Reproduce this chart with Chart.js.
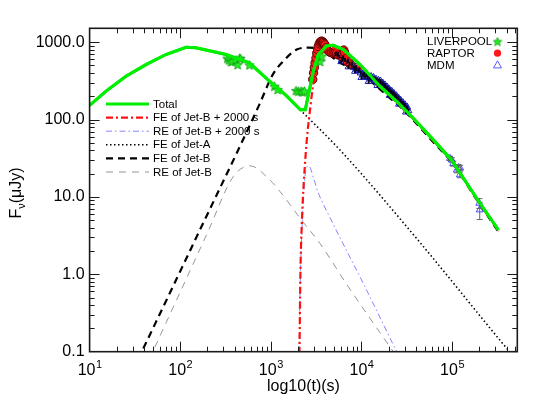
<!DOCTYPE html>
<html>
<head>
<meta charset="utf-8">
<script src="https://cdn.jsdelivr.net/npm/chart.js@4.4.1/dist/chart.umd.min.js"></script>
<style>
  html, body { margin: 0; padding: 0; background: #fff; }
  canvas { display: block; }
</style>
</head>
<body>
<canvas id="lc" width="545" height="409"></canvas>
<script>
const FONT = "'Liberation Sans', Arial, Helvetica, sans-serif";

// model curves: t (s) vs flux (uJy)
const tTotal = [10, 15.2, 25.2, 41.9, 69.6, 116, 149, 320, 580, 925, 1473, 2120, 2400, 2945, 3343, 4140, 4900, 6320, 9670, 16000, 25500, 37400, 62200, 98500, 187000, 325000];
const fTotal = [152, 233, 363, 513, 692, 860, 844, 692, 540, 328, 205, 134, 134, 422, 691, 900, 910, 802, 513, 270, 164, 104, 54.6, 30, 9.6, 3.74];

const tFeB2000 = [2050, 2070, 2120, 2200, 2430, 2750, 3050, 3374, 3930, 4640, 5800, 7800, 12100, 16100, 21800, 29900, 39400, 64200, 100500, 189000, 327000];
const fFeB2000 = [0.06, 0.1, 1.0, 4.6, 37, 156, 381, 568, 802, 852, 765, 560, 375, 262, 190, 133, 95, 51, 28.5, 9.2, 3.6];

const tReB2000 = [2050, 2100, 2200, 2385, 2620, 3000, 3300, 4500, 6890, 10500, 24500, 28000];
const fReB2000 = [0.1, 0.59, 3.45, 18.3, 25.2, 16.6, 11.7, 5.4, 2.0, 0.76, 0.1, 0.073];

const tFeA = [2100, 5800, 40700, 339000, 450000];
const fFeA = [134, 40.4, 2.9, 0.14, 0.094];

const tFeB = [30, 37.6, 99.5, 180, 421, 747, 1050, 1374, 1930, 2640, 3800, 5800, 10100, 14100, 19800, 27900, 37400, 62200, 98500, 187000, 325000];
const fFeB = [0.058, 0.1, 1.08, 4.64, 37, 156, 381, 568, 802, 852, 765, 540, 398, 281, 198, 140, 98, 51, 28.5, 9.2, 3.55];

const tReB = [40, 49.9, 100, 200, 385, 589, 977, 1265, 2190, 3490, 6890, 22500, 27000];
const fReB = [0.056, 0.1, 0.59, 3.45, 18.3, 25.2, 16.6, 11.7, 5.0, 2.5, 0.74, 0.1, 0.074];

// observations
const tLiverpool = [332, 345, 363, 379, 414, 431, 453, 460, 580, 1094, 1191, 1897, 2010, 2153, 2250, 2350, 3490, 3650];
const fLiverpool = [621, 590, 561, 568, 590, 513, 621, 614, 508, 270, 244, 237, 232, 233, 228, 233, 562, 659];

const tRaptor = [2900, 2960, 3020, 3080, 3150, 3210, 3280, 3340, 3420, 3500, 3580, 3650, 3720, 3800, 3880, 3960, 4100, 4310, 4500, 4700, 4900, 5100, 5300, 5560, 5800, 6030, 6200, 6380, 6500, 6700, 7000, 7500];
const fRaptor = [330, 400, 470, 540, 620, 720, 800, 880, 950, 1000, 1020, 1030, 1010, 990, 960, 920, 850, 770, 740, 730, 720, 727, 710, 685, 690, 652, 700, 790, 740, 610, 560, 520];

const tMdm = [5200, 5700, 6000, 6100, 6590, 7000, 7200, 7400, 7820, 8300, 8500, 8800, 9250, 9800, 10000, 10400, 11000, 11700, 12000, 12400, 13200, 14100, 14900, 15000, 15800, 16700, 17700, 18700, 19800, 20500, 21000, 22200, 23500, 24900, 26000, 26400, 27900, 29500, 31000, 31200, 33000,
              5500, 6300, 7100, 7900, 8700, 9500, 10700, 11400, 12800, 13600, 14500, 15400, 16200, 17200, 18200, 19300, 20300, 21600, 22800, 24200, 25600, 27100, 28700, 30300, 32000,
              95000, 99300, 103000, 113000, 118000, 122000, 123000, 200000, 202000];
const fMdm = [700, 650, 560, 600, 590, 560, 480, 530, 500, 470, 420, 450, 430, 400, 350, 380, 360, 350, 310, 345, 335, 320, 305, 275, 300, 290, 268, 255, 240, 205, 225, 212, 198, 185, 158, 172, 160, 150, 125, 141, 130,
              700, 630, 580, 530, 480, 445, 392, 375, 360, 350, 332, 322, 315, 296, 280, 262, 246, 232, 218, 204, 190, 177, 165, 155, 145,
              31.5, 30.1, 27, 22.3, 24, 19.3, 23.6, 8.3, 6.8];
const eMdm = [40, 36, 32, 34, 33, 31, 27, 30, 28, 26, 24, 25, 24, 22, 20, 21, 20, 20, 18, 20, 19, 18, 17, 16, 17, 16, 15, 14, 14, 12, 13, 12, 11, 11, 9, 10, 9, 9, 7, 8, 8,
              40, 36, 33, 30, 27, 25, 22, 21, 20, 20, 19, 18, 18, 17, 16, 15, 14, 13, 12, 12, 11, 10, 9, 9, 8,
              2, 2, 2, 1.8, 2, 1.6, 2, 1.2, 1.7];

const xTickExps = [1, 2, 3, 4, 5];
const yTickValues = [0.1, 1, 10, 100, 1000];
const yTickLabels = ['0.1', '1.0', '10.0', '100.0', '1000.0'];

const lineLegend = ['Total', 'FE of Jet-B + 2000 s', 'RE of Jet-B + 2000 s', 'FE of Jet-A', 'FE of Jet-B', 'RE of Jet-B'];
const pointLegend = ['LIVERPOOL', 'RAPTOR', 'MDM'];

const pts = (xs, ys) => xs.map((x, i) => ({ x, y: ys[i] }));

function starImage(size) {
  const c = document.createElement('canvas');
  c.width = c.height = size;
  const g = c.getContext('2d');
  const cx = size / 2, cy = size / 2 + 0.5, r = size / 2 - 0.5, ri = r * 0.45;
  g.beginPath();
  for (let i = 0; i < 10; i++) {
    const a = -Math.PI / 2 + i * Math.PI / 5;
    const rr = i % 2 ? ri : r;
    g.lineTo(cx + rr * Math.cos(a), cy + rr * Math.sin(a));
  }
  g.closePath();
  g.fillStyle = '#22f022';
  g.fill();
  g.strokeStyle = '#139a13';
  g.lineWidth = 0.8;
  g.stroke();
  return c;
}
const starBig = starImage(11);
const starSmall = starImage(10);

function line(label, xs, ys, color, width, dash, order) {
  return {
    label, data: pts(xs, ys), showLine: true, borderColor: color, borderWidth: width,
    borderDash: dash, pointRadius: 0, fill: false, order, cubicInterpolationMode: 'monotone'
  };
}

const datasets = [
  Object.assign(line('Total', tTotal, fTotal, '#00ee00', 3, [], 0), { cubicInterpolationMode: 'default', tension: 0 }),
  line('FE of Jet-B + 2000 s', tFeB2000, fFeB2000, '#ff1010', 2.2, [7, 3, 2, 3], 2),
  line('RE of Jet-B + 2000 s', tReB2000, fReB2000, '#7777ff', 0.9, [6, 3, 1.5, 3], 6),
  line('FE of Jet-A', tFeA, fFeA, '#000000', 1.6, [1.5, 2.5], 8),
  line('FE of Jet-B', tFeB, fFeB, '#000000', 2.2, [7, 5], 5),
  line('RE of Jet-B', tReB, fReB, '#8a8a8a', 0.9, [7, 6], 7),
  { label: 'LIVERPOOL', data: pts(tLiverpool, fLiverpool), pointStyle: starBig, pointRadius: 5.5, showLine: false, order: 1 },
  { label: 'RAPTOR', data: pts(tRaptor, fRaptor), pointStyle: 'circle', pointRadius: 4.2, backgroundColor: '#ff1a1a', borderColor: '#5a0000', borderWidth: 1, showLine: false, order: 3 },
  { label: 'MDM', data: pts(tMdm, fMdm), pointStyle: 'triangle', pointRadius: 4, backgroundColor: 'rgba(0,0,0,0)',
    borderColor: c => (c.raw && c.raw.x < 50000 ? '#1c1cb4' : '#4646ff'), borderWidth: 1, showLine: false, order: 4 }
];

const errorBars = {
  id: 'errorBars',
  afterDatasetsDraw(chart) {
    const { ctx, scales: { x, y } } = chart;
    ctx.save();
    tMdm.forEach((t, i) => {
      const px = x.getPixelForValue(t);
      const y1 = y.getPixelForValue(fMdm[i] - eMdm[i]);
      const y2 = y.getPixelForValue(fMdm[i] + eMdm[i]);
      const dense = t < 50000;
      ctx.strokeStyle = dense ? '#05051e' : '#666';
      ctx.lineWidth = dense ? 2 : 1;
      ctx.beginPath();
      ctx.moveTo(px, y1); ctx.lineTo(px, y2);
      if (!dense) {
        ctx.moveTo(px - 3, y1); ctx.lineTo(px + 3, y1);
        ctx.moveTo(px - 3, y2); ctx.lineTo(px + 3, y2);
      }
      ctx.stroke();
    });
    // green total stays on top of the dense band
    const meta = chart.getDatasetMeta(0);
    if (meta && meta.dataset) meta.dataset.draw(ctx, chart.chartArea);
    ctx.restore();
  }
};

const isDecade = v => Math.abs(Math.log10(v) - Math.round(Math.log10(v))) < 1e-6;
const isWhole = v => {
  const m = v / Math.pow(10, Math.floor(Math.log10(v) + 1e-9));
  return Math.abs(m - Math.round(m)) < 1e-6;
};

const frame = {
  id: 'frame',
  afterDraw(chart) {
    const { ctx, chartArea: a, scales: { x, y } } = chart;
    ctx.save();
    ctx.strokeStyle = '#1a1a1a';
    ctx.lineWidth = 1;
    ctx.beginPath();
    x.ticks.forEach(t => {
      if (!isWhole(t.value)) return;
      const px = Math.round(x.getPixelForValue(t.value)) + 0.5;
      if (px <= a.left + 1 || px >= a.right - 1) return;
      const L = isDecade(t.value) ? 10 : 5;
      ctx.moveTo(px, a.bottom); ctx.lineTo(px, a.bottom - L);
      ctx.moveTo(px, a.top); ctx.lineTo(px, a.top + L);
    });
    y.ticks.forEach(t => {
      if (!isWhole(t.value)) return;
      const py = Math.round(y.getPixelForValue(t.value)) + 0.5;
      if (py <= a.top + 1 || py >= a.bottom - 1) return;
      const L = isDecade(t.value) ? 10 : 5;
      ctx.moveTo(a.left, py); ctx.lineTo(a.left + L, py);
      ctx.moveTo(a.right, py); ctx.lineTo(a.right - L, py);
    });
    ctx.stroke();
    ctx.lineWidth = 1.6;
    ctx.strokeRect(a.left, a.top, a.right - a.left, a.bottom - a.top);

    // x tick labels 10^n
    ctx.fillStyle = '#000';
    ctx.textBaseline = 'alphabetic';
    ctx.textAlign = 'left';
    xTickExps.forEach(e => {
      const px = x.getPixelForValue(Math.pow(10, e));
      ctx.font = '16px ' + FONT;
      const w1 = ctx.measureText('10').width;
      ctx.font = '11px ' + FONT;
      const w2 = ctx.measureText(String(e)).width;
      const x0 = px - (w1 + w2) / 2;
      ctx.font = '16px ' + FONT;
      ctx.fillText('10', x0, a.bottom + 23.5);
      ctx.font = '11px ' + FONT;
      ctx.fillText(String(e), x0 + w1 + 0.5, a.bottom + 16);
    });

    // axis titles
    ctx.font = '16px ' + FONT;
    ctx.textAlign = 'center';
    ctx.fillText('log10(t)(s)', (a.left + a.right) / 2, 391);

    ctx.save();
    ctx.translate(20.5, 193);
    ctx.rotate(-Math.PI / 2);
    ctx.textAlign = 'left';
    ctx.font = '16px ' + FONT;
    const wF = ctx.measureText('F').width;
    const wRest = ctx.measureText('(μJy)').width;
    ctx.font = '11px ' + FONT;
    const wNu = ctx.measureText('ν').width;
    let sx = -(wF + wNu + wRest) / 2;
    ctx.font = '16px ' + FONT;
    ctx.fillText('F', sx, 0);
    ctx.font = '11px ' + FONT;
    ctx.fillText('ν', sx + wF, 4);
    ctx.font = '16px ' + FONT;
    ctx.fillText('(μJy)', sx + wF + wNu, 0);
    ctx.restore();

    // line legend
    ctx.font = '11.5px ' + FONT;
    ctx.textAlign = 'left';
    ctx.textBaseline = 'middle';
    lineLegend.forEach((name, i) => {
      const ds = chart.data.datasets.find(d => d.label === name);
      const ry = 104 + i * 13.6;
      ctx.save();
      ctx.strokeStyle = ds.borderColor;
      ctx.lineWidth = ds.borderWidth;
      ctx.setLineDash(ds.borderDash);
      ctx.beginPath();
      ctx.moveTo(106, ry); ctx.lineTo(149, ry);
      ctx.stroke();
      ctx.restore();
      ctx.fillStyle = '#000';
      ctx.fillText(name, 153, ry + 0.5);
    });

    // point legend
    pointLegend.forEach((name, i) => {
      const ry = 41.5 + i * 11.7;
      ctx.fillStyle = '#000';
      ctx.fillText(name, 427, ry + 0.5);
      const mx = 497.5;
      if (i === 0) {
        ctx.drawImage(starSmall, mx - 5, ry - 5);
      } else if (i === 1) {
        ctx.fillStyle = '#ff1a1a';
        ctx.beginPath(); ctx.arc(mx, ry, 3.6, 0, Math.PI * 2); ctx.fill();
      } else {
        ctx.strokeStyle = '#5a5aff';
        ctx.lineWidth = 1;
        ctx.beginPath();
        ctx.moveTo(mx, ry - 4); ctx.lineTo(mx + 4, ry + 3); ctx.lineTo(mx - 4, ry + 3); ctx.closePath();
        ctx.stroke();
      }
    });
    ctx.restore();
  }
};

new Chart(document.getElementById('lc'), {
  type: 'scatter',
  data: { datasets },
  options: {
    responsive: false,
    animation: false,
    devicePixelRatio: 1,
    events: [],
    layout: { padding: { top: 28.3, right: 27.7, bottom: 0, left: 0 } },
    plugins: { legend: { display: false }, tooltip: { enabled: false } },
    scales: {
      x: {
        type: 'logarithmic', min: 10, max: 525000,
        grid: { display: false, drawTicks: false },
        border: { display: false },
        ticks: { display: false, autoSkip: false },
        afterFit: s => { s.height = 57.3; }
      },
      y: {
        type: 'logarithmic', min: 0.1, max: 1510,
        grid: { display: false, drawTicks: false },
        border: { display: false },
        ticks: {
          autoSkip: false, padding: 5, color: '#000', font: { family: FONT, size: 16 },
          callback: v => {
            const i = yTickValues.findIndex(t => Math.abs(t - v) / t < 1e-6);
            return i >= 0 ? yTickLabels[i] : '';
          }
        },
        afterFit: s => { s.width = 89.6; }
      }
    }
  },
  plugins: [errorBars, frame]
});
</script>
</body>
</html>
